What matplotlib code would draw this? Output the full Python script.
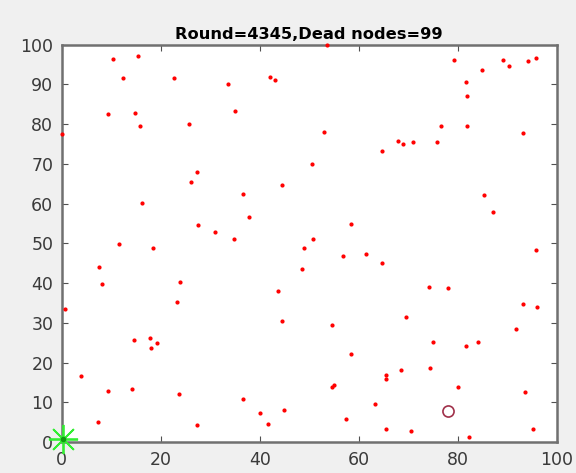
import numpy as np
import matplotlib
matplotlib.use("Agg")
import matplotlib.pyplot as plt

# dead node positions
node_x = [10.3, 15.4, 12.3, 22.6, 9.4, 14.9, 15.9, 25.8, 0.1, 27.4,
          53.7, 33.6, 42.0, 43.0, 35.0, 53.0, 50.5,
          79.3, 89.2, 90.4, 94.3, 95.9, 85.0, 81.6, 81.8, 76.6, 81.8,
          93.1, 67.9, 68.9, 70.9, 75.8, 64.8,
          26.1, 16.3, 27.6, 30.9, 11.6, 18.5, 7.5, 8.1, 23.9, 23.3, 0.7,
          44.5, 36.7, 37.9, 34.9, 58.4, 50.8, 49.0, 56.8, 61.5, 48.6, 43.7,
          85.4, 87.1, 95.9, 64.8, 74.3, 78.1, 69.5, 93.1, 96.1,
          14.7, 17.9, 19.3, 18.1, 3.9, 9.3, 14.3, 23.8, 7.3, 27.4,
          44.5, 54.7, 58.5, 54.7, 55.0, 36.7, 40.0, 45.0, 41.6, 57.4, 63.2,
          91.8, 75.1, 81.6, 84.2, 68.6, 74.5, 65.5, 65.5, 80.1, 93.5,
          65.5, 70.6, 82.2, 95.2]
node_y = [96.4, 97.2, 91.5, 91.5, 82.5, 82.7, 79.6, 80.1, 77.6, 68.1,
          99.8, 90.2, 91.8, 91.2, 83.2, 78.0, 70.0,
          96.2, 96.2, 94.7, 95.8, 96.7, 93.6, 90.7, 87.0, 79.6, 79.6,
          77.7, 75.9, 74.9, 75.5, 75.5, 73.3,
          65.5, 60.2, 54.7, 52.8, 49.8, 48.9, 44.2, 39.9, 40.2, 35.2, 33.6,
          64.6, 62.5, 56.7, 51.2, 55.0, 51.1, 48.9, 46.9, 47.3, 43.5, 38.1,
          62.2, 57.9, 48.4, 45.0, 39.1, 38.9, 31.6, 34.9, 34.0,
          25.6, 26.2, 24.9, 23.8, 16.7, 13.0, 13.4, 12.1, 5.1, 4.4,
          30.5, 29.5, 22.2, 13.8, 14.3, 10.9, 7.4, 8.1, 4.7, 5.8, 9.6,
          28.4, 25.3, 24.2, 25.2, 18.1, 18.7, 16.9, 16.0, 13.9, 12.7,
          3.3, 2.9, 1.3, 3.3]

alive_x = [78.1]
alive_y = [7.9]
sink_x = [0.3]
sink_y = [0.75]

fig = plt.figure(figsize=(5.76, 4.73), dpi=100, facecolor="#f0f0f0")
ax = fig.add_axes([0.107, 0.065, 0.8595, 0.8405])
ax.set_facecolor("white")

ax.plot(node_x, node_y, ".", color="red", markersize=4, clip_on=False, zorder=4)
ax.plot(alive_x, alive_y, "o", markerfacecolor="none", markeredgecolor="#a0304a",
        markersize=8, markeredgewidth=1.2, zorder=4)
ax.plot(sink_x, sink_y, marker=(8, 2, 0), color="#33ee33", markersize=21,
        markeredgewidth=1.3, clip_on=False, zorder=5)
ax.plot(sink_x, sink_y, "o", color="#119911", markersize=3, clip_on=False, zorder=6)

ax.set_xlim(0, 100)
ax.set_ylim(0, 100)
ax.set_xticks(np.arange(0, 101, 20))
ax.set_yticks(np.arange(0, 101, 10))
ax.tick_params(direction="in", length=4, top=True, right=True, pad=6,
               labelsize=12.5, colors="#505050", labelcolor="#3a3a3a")
for s in ax.spines.values():
    s.set_color("#707070")
    s.set_linewidth(1.8)

ax.set_title("Round=4345,Dead nodes=99", fontsize=11.7, fontweight="bold", pad=4)

fig.savefig("out.png", dpi=100, facecolor=fig.get_facecolor())
